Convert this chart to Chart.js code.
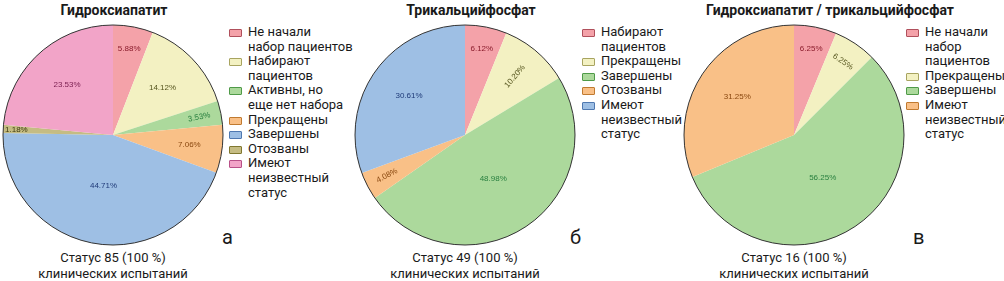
<!DOCTYPE html>
<html>
<head>
<meta charset="utf-8">
<script src="https://cdn.jsdelivr.net/npm/chart.js@4.4.1/dist/chart.umd.min.js"></script>
<style>
  html, body { margin: 0; padding: 0; background: #fff; }
  #page { position: relative; width: 1004px; height: 281px; overflow: hidden; font-family: Roboto, "Noto Sans", sans-serif; color: #1a1a1a; }
  canvas { position: absolute; }
  .title { position: absolute; top: 0; font-weight: bold; font-size: 14px; line-height: 20px; white-space: nowrap; transform: translateX(-50%); }
  .caption { position: absolute; top: 250px; font-size: 13px; line-height: 16px; text-align: center; white-space: nowrap; transform: translateX(-50%); }
  .letter { position: absolute; top: 224px; font-size: 20px; line-height: 26px; }
  .legend { position: absolute; top: 25px; font-size: 13px; line-height: 14.6px; }
  .item { position: relative; padding-left: 19px; white-space: nowrap; }
  .box { position: absolute; left: 0; top: 4px; width: 11px; height: 6px; border: 1px solid; border-radius: 1px; }
</style>
</head>
<body>
<div id="page"></div>
<script>
// --- data ---
const titles = ['Гидроксиапатит', 'Трикальцийфосфат', 'Гидроксиапатит / трикальцийфосфат'];
const panelLetters = ['а', 'б', 'в'];

const categoriesA = [['Не начали', 'набор пациентов'], ['Набирают', 'пациентов'], ['Активны, но', 'еще нет набора'],
  ['Прекращены'], ['Завершены'], ['Отозваны'], ['Имеют', 'неизвестный', 'статус']];
const countsA = [5, 12, 3, 6, 38, 1, 20];

const categoriesB = [['Набирают', 'пациентов'], ['Прекращены'], ['Завершены'], ['Отозваны'], ['Имеют', 'неизвестный', 'статус']];
const countsB = [3, 5, 24, 2, 15];

const categoriesC = [['Не начали', 'набор', 'пациентов'], ['Прекращены'], ['Завершены'], ['Имеют', 'неизвестный', 'статус']];
const countsC = [1, 1, 9, 5];

// --- style ---
const fillColors = ['#f4a2a9', '#f3f1c2', '#acd99c', '#f9c087', '#9ebfe4', '#c5bc83', '#f2a4c8'];
const edgeColors = ['#b0505c', '#a8a460', '#4f9a48', '#c07a30', '#4f78b0', '#807830', '#b85088'];
const textColors = ['#8a1c2c', '#55551e', '#2a8040', '#8a4810', '#1f3a78', '#3d3a10', '#7a1f50'];
// label rotation: '' none, 'r' radial, 't' tangential
const rotateA = ['', '', 'r', '', '', '', ''];
const rotateB = ['', 'r', '', 'r', ''];
const rotateC = ['', 't', '', ''];

const panels = [
  { cats: categoriesA, counts: countsA, rot: rotateA, cx: 113, titleX: 114, legendX: 229, letterX: 222 },
  { cats: categoriesB, counts: countsB, rot: rotateB, cx: 465, titleX: 471, legendX: 582, letterX: 570 },
  { cats: categoriesC, counts: countsC, rot: rotateC, cx: 794, titleX: 830, legendX: 906, letterX: 913 }
];

const pctLabels = {
  id: 'pctLabels',
  afterDatasetsDraw(chart, args, opts) {
    const ctx = chart.ctx;
    const ds = chart.data.datasets[0];
    const total = ds.data.reduce((a, b) => a + b, 0);
    const arcs = chart.getDatasetMeta(0).data;
    let cx = 0, cy = 0, r = 0;
    arcs.forEach((arc, i) => {
      const p = arc.getProps(['x', 'y', 'startAngle', 'endAngle', 'outerRadius'], true);
      cx = p.x; cy = p.y; r = p.outerRadius;
      const mid = (p.startAngle + p.endAngle) / 2;
      const frac = ds.data[i] / total;
      let k = 0.62;
      if (frac < 0.02) k = 0.88;
      else if (frac < 0.065) k = 0.8;
      else if (frac < 0.12) k = 0.7;
      else if (frac > 0.4) k = 0.47;
      const x = cx + Math.cos(mid) * r * k;
      const y = cy + Math.sin(mid) * r * k;
      let rot = 0;
      if (opts.rot[i] === 'r') rot = mid;
      if (opts.rot[i] === 't') rot = mid + Math.PI / 2;
      if (Math.cos(rot) < 0) rot += Math.PI;
      ctx.save();
      ctx.translate(x, y);
      ctx.rotate(rot);
      ctx.font = '8px "Liberation Sans", Arial, sans-serif';
      ctx.fillStyle = textColors[i];
      ctx.textAlign = 'center';
      ctx.textBaseline = 'middle';
      ctx.fillText((frac * 100).toFixed(2) + '%', 0, 0);
      ctx.restore();
    });
    ctx.save();
    ctx.beginPath();
    ctx.arc(cx, cy, r, 0, Math.PI * 2);
    ctx.strokeStyle = '#333';
    ctx.lineWidth = 1;
    ctx.stroke();
    ctx.restore();
  }
};

const page = document.getElementById('page');

function addDiv(cls, html, left) {
  const d = document.createElement('div');
  d.className = cls;
  d.innerHTML = html;
  d.style.left = left + 'px';
  page.appendChild(d);
  return d;
}

panels.forEach((p, n) => {
  addDiv('title', titles[n], p.titleX);
  const total = p.counts.reduce((a, b) => a + b, 0);
  addDiv('caption', 'Статус ' + total + ' (100 %)<br>клинических испытаний', p.cx);
  addDiv('letter', panelLetters[n], p.letterX);

  const legend = addDiv('legend', '', p.legendX);
  p.cats.forEach((lines, i) => {
    const item = document.createElement('div');
    item.className = 'item';
    item.innerHTML = '<span class="box" style="background:' + fillColors[i] + ';border-color:' + edgeColors[i] + '"></span>' + lines.join('<br>');
    legend.appendChild(item);
  });

  const cv = document.createElement('canvas');
  cv.width = 222; cv.height = 222;
  cv.style.left = (p.cx - 111) + 'px';
  cv.style.top = '24px';
  page.appendChild(cv);

  new Chart(cv, {
    type: 'pie',
    data: {
      labels: p.cats,
      datasets: [{
        data: p.counts,
        backgroundColor: fillColors.slice(0, p.counts.length),
        borderWidth: 0,
        hoverOffset: 0
      }]
    },
    options: {
      responsive: false,
      animation: false,
      events: [],
      layout: { padding: 1 },
      plugins: {
        legend: { display: false },
        tooltip: { enabled: false },
        pctLabels: { rot: p.rot }
      }
    },
    plugins: [pctLabels]
  });
});
</script>
</body>
</html>
